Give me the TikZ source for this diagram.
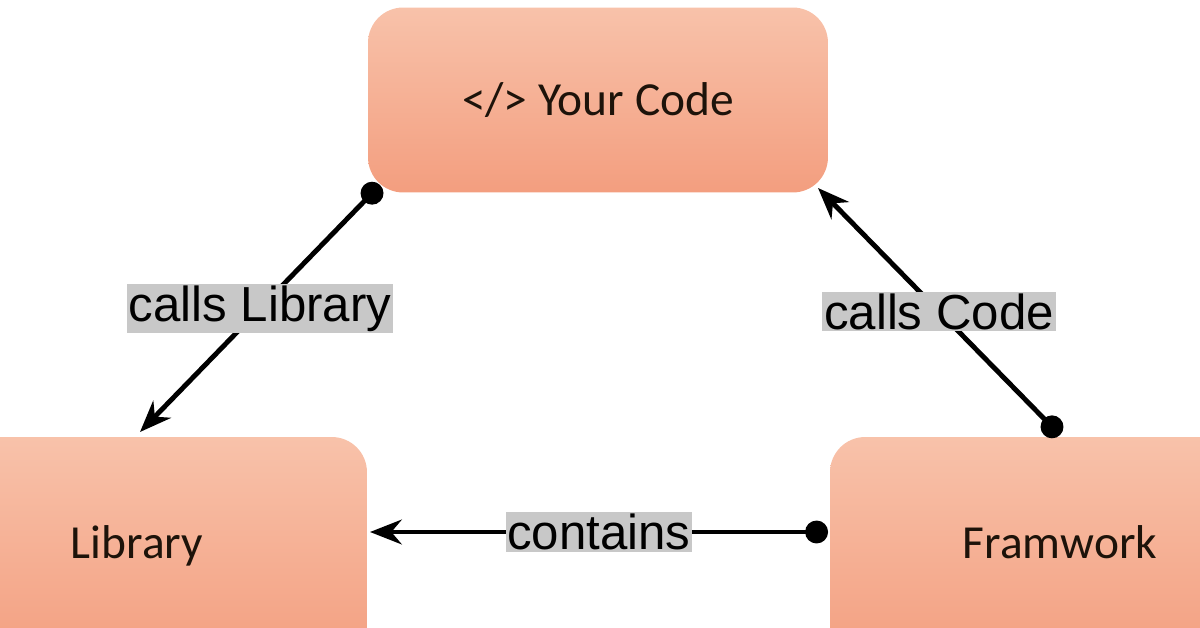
\documentclass[tikz,border=0pt]{standalone}
\usepackage{fontspec}
\setmainfont{Liberation Sans}
\newfontfamily\boxfont{Carlito}
\usetikzlibrary{arrows.meta}
\definecolor{boxtop}{HTML}{F8C2AA}
\definecolor{boxbot}{HTML}{F39E7F}
\definecolor{labelgray}{HTML}{C8C8C8}
\tikzstyle{block}=[rounded corners=20pt, top color=boxtop, bottom color=boxbot, draw=none,
  font=\boxfont\fontsize{27}{30}\selectfont, text=black!85!brown]
\tikzstyle{link}=[line width=2.8pt, {Circle[length=13pt]}-{Stealth[length=18pt,width=14pt]}]
\tikzstyle{tag}=[fill=labelgray, inner sep=1pt, font=\fontsize{28}{30}\selectfont]
\begin{document}
\begin{tikzpicture}[x=0.02cm, y=-0.02cm]
        \useasboundingbox (0,0) rectangle (1200,628);
        \begin{scope}
        \clip (0,0) rectangle (1200,628);
        \node[block, minimum width=9.2cm, minimum height=3.7cm]   (code) at (598,100) {</> Your Code};
        \node[block, minimum width=9.2cm, minimum height=4.6cm]   (lib)  at (137,552) {\raisebox{0.38cm}{Library}};
        \node[block, minimum width=9.2cm, minimum height=4.6cm]   (fw)   at (1060,552) {\raisebox{0.38cm}{Framwork}};
        \end{scope}
        \coordinate (codeL) at (380,185);
        \coordinate (codeR) at (818,188);
        \coordinate (libT)  at (140,432);
        \coordinate (libR)  at (370,532);
        \coordinate (fwT)   at (1060,435);
        \coordinate (fwL)   at (828,532);
        \draw[link] (codeL) -- node[tag] {calls Library} (libT);
        \draw[link] (fwT) -- node[tag] {calls Code} (codeR);
        \draw[link] (fwL) -- node[tag, pos=0.5] {contains} (libR);
    \end{tikzpicture}
\end{document}
